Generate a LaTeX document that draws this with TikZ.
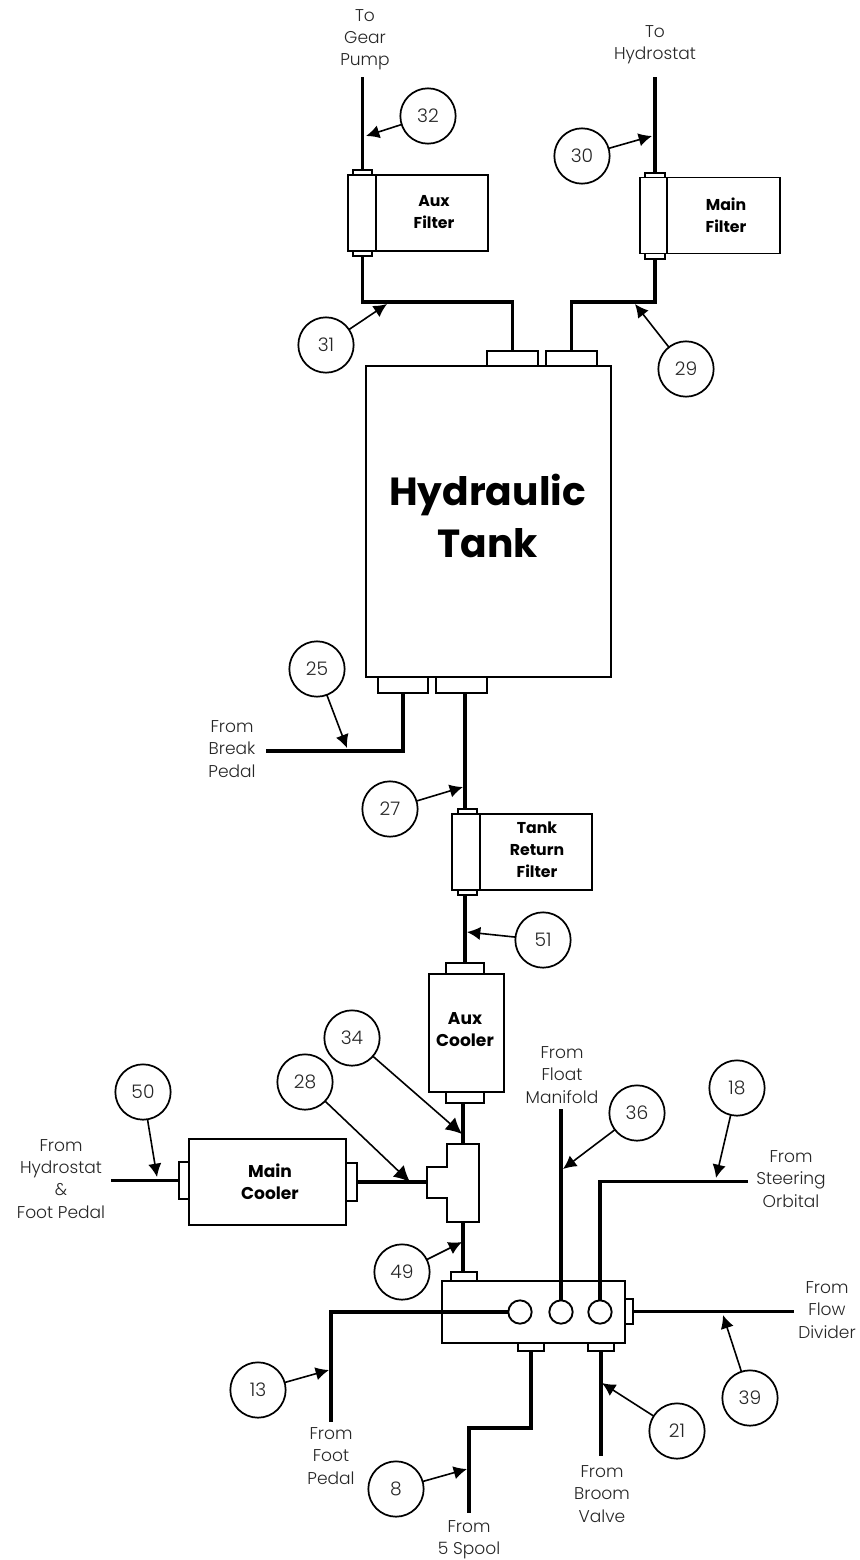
\documentclass[tikz,border=0pt]{standalone}
\usepackage{fontspec}
\setmainfont{Poppins}
\newfontfamily\lightfont{Poppins Light}
\usetikzlibrary{arrows.meta}
\newcommand\partbox[6][]{%
  \pgfmathsetmacro\pw{(#5-#3)*0.75}\pgfmathsetmacro\ph{(#6-#4)*0.75}%
  \node[part,minimum width=\pw pt,minimum height=\ph pt,#1] (#2) at ({(#3+#5)/2},{(#4+#6)/2}) {};}
\tikzset{
  x=0.75pt,y=-0.75pt,
  part/.style={draw=black,fill=white,line width=1.4pt,inner sep=0pt,outer sep=0pt},
  pipe/.style={draw=black,line width=2.3pt,line join=miter},
  badge/.style={circle,draw=black,fill=white,line width=1.3pt,minimum size=41.5pt,inner sep=0pt,outer sep=0pt,font=\lightfont\fontsize{14}{16}\selectfont\color{black!85}},
  port/.style={circle,draw=black,fill=white,line width=1.4pt,minimum size=17.5pt,inner sep=0pt,outer sep=0pt},
  callout/.style={draw=black,line width=1.2pt,-{Latex[length=10pt,width=10pt]}},
  bigcallout/.style={draw=black,line width=1.2pt,-{Latex[length=12pt,width=12pt]}},
  note/.style={align=center,inner sep=0pt,font=\lightfont\fontsize{12.8}{16.6}\selectfont\color{black!85}},
  tag/.style={align=center,inner sep=0pt,font=\fontsize{11.8}{16.5}\selectfont\bfseries},
  bigtag/.style={align=center,inner sep=0pt,font=\fontsize{12.8}{16.5}\selectfont\bfseries},
}
\begin{document}
\begin{tikzpicture}
\useasboundingbox (0,0) rectangle (860,1560);
% free ends
\coordinate (gearEnd) at (362.5,77);
\coordinate (hydroEnd) at (655,77);
\coordinate (auxTurnL) at (362.5,302);
\coordinate (auxTurnR) at (512.5,302);
\coordinate (mainTurnL) at (571.5,302);
\coordinate (mainTurnR) at (655,302);
\coordinate (breakEnd) at (266,751);
\coordinate (footHydroEnd) at (111,1180.5);
\coordinate (manifoldEnd) at (561,1109);
\coordinate (steerEnd) at (748,1181.5);
\coordinate (flowEnd) at (794,1311.5);
\coordinate (footEnd) at (331,1422);
\coordinate (spoolTurn) at (469,1428);
\coordinate (spoolEnd) at (469,1513);
\coordinate (broomEnd) at (601,1456);
\coordinate (teeTop) at (463,1144);
\coordinate (teeBot) at (463,1222);
\coordinate (teeLeft) at (427,1182);
% pipes behind the parts
\draw[pipe] (gearEnd) -- (362.5,170);
\draw[pipe] (hydroEnd) -- (655,173);
\draw[pipe] (362.5,256) -- (auxTurnL) -- (auxTurnR) -- (512.5,351);
\draw[pipe] (571.5,351) -- (mainTurnL) -- (mainTurnR) -- (655,259);
\draw[pipe] (403,693) -- (403,751) -- (breakEnd);
\draw[pipe] (465,693) -- (465,809);
\draw[pipe] (465,895) -- (465,963);
\draw[pipe] (463,1103) -- (teeTop);
\draw[pipe] (teeBot) -- (463,1272);
\draw[pipe] (footHydroEnd) -- (179,1180.5);
\draw[pipe] (357,1182) -- (teeLeft);
% filters
\partbox{auxBody}{376}{175}{488}{251}
\partbox{auxCapT}{353}{170}{372}{175}
\partbox{auxCapB}{353}{251}{372}{256}
\partbox{auxCyl}{348}{175}{376}{251}
\partbox{mainBody}{667}{177.5}{780}{253.5}
\partbox{mainCapT}{645}{173}{665}{177.5}
\partbox{mainCapB}{645}{253.5}{665}{259}
\partbox{mainCyl}{640}{177.5}{667}{253.5}
\partbox{retBody}{480}{814}{592}{890}
\partbox{retCapT}{458}{809}{477}{814}
\partbox{retCapB}{458}{890}{477}{895}
\partbox{retCyl}{452}{814}{480}{890}
% tank
\partbox{tankTabA}{487}{351}{538}{366}
\partbox{tankTabB}{546}{351}{597}{366}
\partbox{tank}{366}{366}{611}{677}
\partbox{tankTabC}{378}{677}{428}{693}
\partbox{tankTabD}{436}{677}{487}{693}
% coolers
\partbox{auxCoolCapT}{446}{963}{484}{974}
\partbox{auxCool}{429}{974}{504}{1092}
\partbox{auxCoolCapB}{446}{1092}{484}{1103}
\partbox{mainCoolCapL}{179}{1162}{189}{1199}
\partbox{mainCoolCapR}{346}{1163}{357}{1201}
\partbox{mainCool}{189}{1139}{346}{1225}
\draw[part] (447,1144) -- (479,1144) -- (479,1222) -- (447,1222) -- (447,1198) -- (427,1198) -- (427,1167) -- (447,1167) -- cycle;
% manifold block
\partbox{blockCapT}{451}{1272}{477}{1281}
\partbox{blockCapR}{625}{1299}{633}{1324}
\partbox{blockCapB}{518}{1343}{544}{1351}
\partbox{blockCapC}{588}{1343}{614}{1351}
\partbox{block}{442}{1281}{625}{1343}
\node[port] (portA) at (520,1312) {};
\node[port] (portB) at (561,1312) {};
\node[port] (portC) at (600,1312) {};
\draw[pipe] (portA.west) -- (portA.west -| footEnd) -- (footEnd);
\draw[pipe] (portB.north) -- (manifoldEnd);
\draw[pipe] (portC.north) -- (portC.north |- steerEnd) -- (steerEnd);
\draw[pipe] (blockCapR.east) -- (flowEnd);
\draw[pipe] (blockCapB.south) -- (blockCapB.south |- spoolTurn) -- (spoolTurn) -- (spoolEnd);
\draw[pipe] (blockCapC.south) -- (broomEnd);
% part labels
\node[tag] (lAuxF) at (434,212) {Aux\\Filter};
\node[tag] (lMainF) at (726,215) {Main\\Filter};
\node[tag] (lRetF) at (537,850) {Tank\\Return\\Filter};
\node[bigtag] (lAuxC) at (465,1030) {Aux\\Cooler};
\node[bigtag] (lMainC) at (270,1182) {Main\\Cooler};
\node[align=center,inner sep=0pt,font=\fontsize{29.4}{39}\selectfont\bfseries] (lTank) at (487.5,516) {Hydraulic\\Tank};
% notes
\node[note] (nGear) at (365,40) {To\\Gear\\Pump};
\node[note] (nHydro) at (655,45) {To\\Hydrostat};
\node[note] (nBreak) at (232,749) {From\\Break\\Pedal};
\node[note] (nFoot1) at (61,1179) {From\\Hydrostat\\\&\\Foot Pedal};
\node[note] (nFloat) at (562,1075) {From\\Float\\Manifold};
\node[note] (nSteer) at (791,1179) {From\\Steering\\Orbital};
\node[note] (nFlow) at (827,1310) {From\\Flow\\Divider};
\node[note] (nFoot2) at (331,1456) {From\\Foot\\Pedal};
\node[note] (nBroom) at (602,1494) {From\\Broom\\Valve};
\node[note] (nSpool) at (469,1539.5) {From\\5 Spool};
% callouts
\foreach \n/\cx/\cy/\tx/\ty in {32/428/116/366/136,31/326/345/387/304,30/582/156/652/136,29/686/369/635/304,25/317/669/347/748,27/390/809/463/787,51/543/940/467/932,50/143/1092/157/1177,49/402/1272/462/1242,36/637/1113/563/1169,18/737/1088/716/1178,13/258/1390/329/1370,8/396/1489/467/1469,21/677/1431/602/1383,39/750/1398/723/1315}{
  \node[badge] (c\n) at (\cx,\cy) {\n};
  \coordinate (t\n) at (\tx,\ty);
  \draw[callout] (c\n) -- (t\n);
}
\foreach \n/\cx/\cy/\tx/\ty in {34/352/1038/462/1134,28/305/1082/410/1182}{
  \node[badge] (c\n) at (\cx,\cy) {\n};
  \coordinate (t\n) at (\tx,\ty);
  \draw[bigcallout] (c\n) -- (t\n);
}
\end{tikzpicture}
\end{document}
